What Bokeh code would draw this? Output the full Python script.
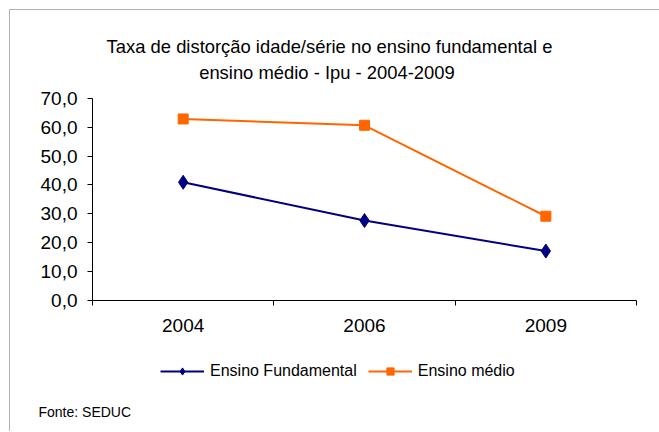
from bokeh.plotting import figure
from bokeh.models import (Range1d, FixedTicker, Legend, LegendItem,
                          ColumnDataSource, Label, BoxAnnotation)
from bokeh.embed import file_html
from bokeh.resources import INLINE

years = ["2004", "2006", "2009"]
fundamental = [40.9, 27.6, 17.0]
medio = [62.9, 60.7, 29.1]
y_ticks = [0, 10, 20, 30, 40, 50, 60, 70]
y_tick_labels = ["0,0", "10,0", "20,0", "30,0", "40,0", "50,0", "60,0", "70,0"]
title_lines = ["Taxa de distorção idade/série no ensino fundamental e",
               "ensino médio - Ipu -  2004-2009"]
source_note = "Fonte: SEDUC"

FONT = "Liberation Sans"
NAVY = "#000080"
ORANGE = "#FF6600"

# canvas geometry (pixels) -> ranges so the plot area sits where it should
W, H = 659, 431
TOP0 = 1                      # canvas top in page pixels
PX_L, PX_R = 92, 636          # x of category span
PX_Y70, PX_Y0 = 99, 300.5     # y of 70 and 0
ppx = (PX_R - PX_L) / len(years)
ppy = (PX_Y0 - PX_Y70) / 70
x_start = -PX_L / ppx
x_end = len(years) + (W - PX_R) / ppx
y_end = 70 + (PX_Y70 - TOP0) / ppy
y_start = -(TOP0 + H - PX_Y0) / ppy

xpos = [i + 0.5 for i in range(len(years))]
src = ColumnDataSource(dict(x=xpos, f=fundamental, m=medio))

p = figure(width=W, height=H, output_backend="svg", toolbar_location=None,
           x_range=Range1d(x_start, x_end), y_range=Range1d(y_start, y_end),
           min_border=0)
p.outline_line_color = None
p.grid.visible = False
p.background_fill_color = "white"
p.border_fill_color = "white"

# outer box of the chart (only its left and top edges fall in the window)
p.add_layout(BoxAnnotation(left=9, right=W + 20, top=TOP0 + H - 10, bottom=-20,
                           left_units="screen", right_units="screen",
                           top_units="screen", bottom_units="screen",
                           fill_alpha=0, line_color="black", line_width=1,
                           level="underlay"))

lf = p.line("x", "f", source=src, line_color=NAVY, line_width=2)
mf = p.scatter("x", "f", source=src, marker="diamond", size=14,
               fill_color=NAVY, line_color=NAVY)
lm = p.line("x", "m", source=src, line_color=ORANGE, line_width=2)
mm = p.scatter("x", "m", source=src, marker="square", size=10,
               fill_color=ORANGE, line_color=ORANGE)

# axes, fixed inside the full-canvas frame
xa = p.xaxis[0]
xa.fixed_location = 0
xa.bounds = (0, len(years))
xa.ticker = FixedTicker(ticks=xpos, minor_ticks=list(range(len(years) + 1)))
xa.major_label_overrides = {x: y for x, y in zip(xpos, years)}
xa.major_tick_line_color = None
xa.minor_tick_out = 5
xa.minor_tick_in = 0
xa.minor_tick_line_color = "black"
xa.major_label_text_font = FONT
xa.major_label_text_font_size = "19px"
xa.major_label_text_color = "black"
xa.major_label_standoff = 13
xa.axis_line_color = "black"

ya = p.yaxis[0]
ya.fixed_location = 0
ya.bounds = (0, 70)
ya.ticker = FixedTicker(ticks=y_ticks, minor_ticks=[])
ya.major_label_overrides = {t: s for t, s in zip(y_ticks, y_tick_labels)}
ya.major_tick_out = 5
ya.major_tick_in = 0
ya.major_label_text_font = FONT
ya.major_label_text_font_size = "19px"
ya.major_label_text_color = "black"
ya.major_label_standoff = 10
ya.axis_line_color = "black"

# title
for txt, yimg in zip(title_lines, [47, 73]):
    p.add_layout(Label(x=329, y=TOP0 + H - yimg, x_units="screen",
                       y_units="screen", text=txt, text_font=FONT,
                       text_font_size="18.4px", text_color="black",
                       text_align="center", text_baseline="middle"))

legend = Legend(items=[LegendItem(label="Ensino Fundamental", renderers=[lf, mf]),
                       LegendItem(label="Ensino médio", renderers=[lm, mm])],
                orientation="horizontal", location=(160, TOP0 + H - 381),
                label_text_font=FONT, label_text_font_size="16px",
                label_text_color="black",
                glyph_width=44, glyph_height=18, label_standoff=6, spacing=11,
                border_line_color=None, background_fill_alpha=0,
                margin=0, padding=0)
p.add_layout(legend, "center")

p.add_layout(Label(x=38, y=TOP0 + H - 412, x_units="screen", y_units="screen",
                   text=source_note, text_font=FONT, text_font_size="14px",
                   text_color="black", text_baseline="middle"))

open("out.html", "w").write(file_html(p, INLINE))
